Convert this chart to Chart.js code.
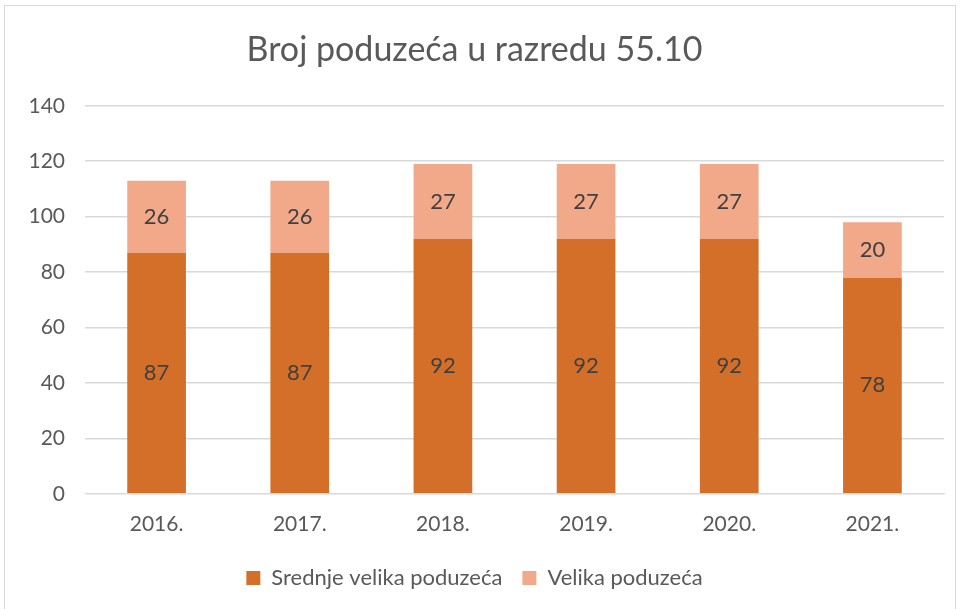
<!DOCTYPE html>
<html>
<head>
<meta charset="utf-8">
<script src="https://cdn.jsdelivr.net/npm/chart.js@4"></script>
<style>
  html, body { margin: 0; padding: 0; background: #fff; }
  .frame {
    position: absolute; left: 4px; top: 5px;
    width: 952px; height: 610px;
    border: 1px solid #d9d9d9; box-sizing: border-box;
  }
  canvas { display: block; }
</style>
</head>
<body>
<div class="frame"><canvas id="chart" width="950" height="608"></canvas></div>
<script>
// values
const years = ["2016.", "2017.", "2018.", "2019.", "2020.", "2021."];
const srednje = [87, 87, 92, 92, 92, 78];
const velika = [26, 26, 27, 27, 27, 20];
const yTicks = { min: 0, max: 140, step: 20 };

const fontFamily = "Lato, 'Open Sans', sans-serif";

// simple inline data labels, centered in each bar segment
const barLabels = {
  id: "barLabels",
  afterDatasetsDraw(chart) {
    const { ctx } = chart;
    ctx.save();
    ctx.font = "22px " + fontFamily;
    ctx.fillStyle = "#404040";
    ctx.textAlign = "center";
    ctx.textBaseline = "middle";
    chart.data.datasets.forEach((ds, i) => {
      chart.getDatasetMeta(i).data.forEach((bar, j) => {
        const mid = (bar.y + bar.base) / 2;
        ctx.fillText(String(ds.data[j]), bar.x, mid);
      });
    });
    ctx.restore();
  }
};

new Chart(document.getElementById("chart"), {
  type: "bar",
  data: {
    labels: years,
    datasets: [
      {
        label: "Srednje velika poduzeća",
        data: srednje,
        backgroundColor: "#d46f2a",
        categoryPercentage: 1,
        barPercentage: 0.41
      },
      {
        label: "Velika poduzeća",
        data: velika,
        backgroundColor: "#f1a98a",
        categoryPercentage: 1,
        barPercentage: 0.41
      }
    ]
  },
  options: {
    responsive: false,
    animation: false,
    layout: { padding: { left: 0, right: 11, top: 0, bottom: 15 } },
    plugins: {
      title: {
        display: true,
        text: "Broj poduzeća u razredu 55.10",
        color: "#595959",
        font: { family: fontFamily, size: 34, weight: "normal" },
        padding: { top: 24, bottom: 35 }
      },
      legend: {
        position: "bottom",
        labels: {
          color: "#595959",
          font: { family: fontFamily, size: 22 },
          boxWidth: 14,
          boxHeight: 14,
          padding: 20
        }
      },
      tooltip: { enabled: false }
    },
    scales: {
      x: {
        stacked: true,
        grid: { display: false },
        border: { color: "#d9d9d9", width: 1 },
        ticks: { color: "#595959", font: { family: fontFamily, size: 21 }, padding: 10 }
      },
      y: {
        stacked: true,
        min: yTicks.min,
        max: yTicks.max,
        afterFit(scale) { scale.width = 80; },
        grid: { color: "#d9d9d9", lineWidth: 1.5, drawTicks: false },
        border: { display: false },
        ticks: {
          stepSize: yTicks.step,
          color: "#595959",
          font: { family: fontFamily, size: 21 },
          padding: 20
        }
      }
    }
  },
  plugins: [barLabels]
});
</script>
</body>
</html>
